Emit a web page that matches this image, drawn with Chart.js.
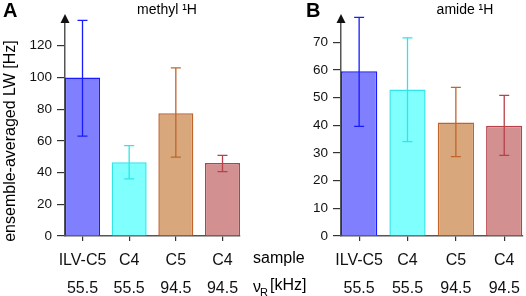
<!DOCTYPE html>
<html>
<head>
<meta charset="utf-8">
<script src="https://cdn.jsdelivr.net/npm/chart.js@4"></script>
<style>
  body { margin: 0; background: #fff; }
  #wrap { position: relative; width: 526px; height: 296px; }
  #wrapA { position: absolute; left: 0; top: 0; width: 250px; height: 296px; }
  #wrapB { position: absolute; left: 250px; top: 0; width: 276px; height: 296px; }
</style>
</head>
<body>
<div id="wrap">
  <div id="wrapA"><canvas id="chartA"></canvas></div>
  <div id="wrapB"><canvas id="chartB"></canvas></div>
</div>
<script>
const categories = ['ILV-C5', 'C4', 'C5', 'C4'];
const spinRates = ['55.5', '55.5', '94.5', '94.5'];

const methylLW = [100, 46.5, 77.5, 46];
const methylLow = [63, 36, 49.7, 40.6];
const methylHigh = [136, 57, 106, 50.8];

const amideLW = [59.5, 52.9, 41, 39.8];
const amideLow = [39.6, 34.1, 28.7, 29.1];
const amideHigh = [79, 71.6, 53.7, 50.8];

const methylTicks = [0, 20, 40, 60, 80, 100, 120];
const amideTicks = [0, 10, 20, 30, 40, 50, 60, 70];

const fillColors = ['#8080ff', '#80ffff', '#d8a87c', '#d29090'];
const lineColors = ['#1a1aff', '#2ee6e6', '#c0642c', '#b8404a'];

const FONT = '"Liberation Sans", Arial, sans-serif';

function makeChart(canvasId, opts) {
    const canvas = document.getElementById(canvasId);
    const ctx = canvas.getContext('2d');

    return new Chart(ctx, {
        type: 'bar',
        data: {
            datasets: [{
                data: opts.values.map((v, i) => ({ x: i, y: v })),
                backgroundColor: fillColors,
                borderColor: lineColors,
                borderWidth: 1.5,
                barPercentage: 0.75,
                categoryPercentage: 1,
            }]
        },
        options: {
            responsive: true,
            maintainAspectRatio: false,
            animation: false,
            layout: {
                padding: { top: 22, right: opts.padRight, left: 0, bottom: 0 }
            },
            scales: {
                x: {
                    type: 'linear',
                    offset: false,
                    min: -0.375,
                    max: 3.375,
                    afterBuildTicks: (s) => { s.ticks = categories.map((_, i) => ({ value: i })); },
                    afterFit: (s) => { s.height = 60; },
                    grid: { drawOnChartArea: false, offset: false, tickLength: 5, color: '#333', lineWidth: 1.2 },
                    border: { display: true, color: '#555', width: 1.5 },
                    ticks: {
                        padding: 6,
                        autoSkip: false,
                        color: '#111',
                        font: { family: FONT, size: 16, lineHeight: 1.75 },
                        maxRotation: 0,
                        callback: (v) => [categories[v], spinRates[v]],
                    }
                },
                y: {
                    min: 0,
                    max: opts.yMax,
                    afterBuildTicks: (s) => { s.ticks = opts.ticks.map(v => ({ value: v })); },
                    afterFit: (s) => { s.width = opts.axisWidth; },
                    grid: { drawOnChartArea: false, tickLength: 8, color: '#333', lineWidth: 1.2 },
                    border: { display: true, color: '#555', width: 1.5 },
                    ticks: {
                        padding: 5,
                        color: '#111',
                        font: { family: FONT, size: 13.5 },
                    }
                }
            },
            plugins: {
                legend: { display: false },
                tooltip: { enabled: false }
            }
        },
        plugins: [
            {
                id: 'errorBars',
                afterDatasetsDraw: (chart) => {
                    const c = chart.ctx;
                    const xs = chart.scales.x;
                    const ys = chart.scales.y;
                    c.save();
                    c.lineWidth = 1.3;
                    opts.values.forEach((_, i) => {
                        const x = xs.getPixelForValue(i);
                        const y1 = ys.getPixelForValue(opts.low[i]);
                        const y2 = ys.getPixelForValue(opts.high[i]);
                        c.strokeStyle = lineColors[i];
                        c.beginPath();
                        c.moveTo(x, y1); c.lineTo(x, y2);
                        c.moveTo(x - 5, y1); c.lineTo(x + 5, y1);
                        c.moveTo(x - 5, y2); c.lineTo(x + 5, y2);
                        c.stroke();
                    });
                    c.restore();
                }
            },
            {
                id: 'decor',
                afterDraw: (chart) => {
                    const c = chart.ctx;
                    const area = chart.chartArea;
                    c.save();
                    // arrow on top of the y axis
                    c.fillStyle = '#111';
                    c.beginPath();
                    c.moveTo(area.left, area.top - 8);
                    c.lineTo(area.left - 4.5, area.top + 1);
                    c.lineTo(area.left + 4.5, area.top + 1);
                    c.closePath();
                    c.fill();

                    // panel letter
                    c.fillStyle = '#000';
                    c.font = 'bold 20px ' + FONT;
                    c.textAlign = 'left';
                    c.textBaseline = 'alphabetic';
                    c.fillText(opts.letter, opts.letterX, 17);

                    // panel title
                    c.font = '14px ' + FONT;
                    c.textAlign = 'center';
                    c.fillText(opts.title, opts.titleX, 14);

                    if (opts.yTitle) {
                        c.save();
                        c.translate(15, 141);
                        c.rotate(-Math.PI / 2);
                        c.font = '16px ' + FONT;
                        c.textAlign = 'center';
                        c.fillText(opts.yTitle, 0, 0);
                        c.restore();
                    }

                    if (opts.rowLabels) {
                        c.font = '16px ' + FONT;
                        c.textAlign = 'left';
                        c.textBaseline = 'middle';
                        c.fillText('sample', 3, 259);
                        c.fillText('\u03bd', 3, 288);
                        c.font = '11px ' + FONT;
                        c.fillText('R', 10, 293);
                        c.font = '16px ' + FONT;
                        c.fillText('[kHz]', 20, 286);
                    }
                    c.restore();
                }
            }
        ]
    });
}

document.addEventListener('DOMContentLoaded', () => {
    makeChart('chartA', {
        values: methylLW, low: methylLow, high: methylHigh,
        ticks: methylTicks, yMax: 135, axisWidth: 65, padRight: 10,
        letter: 'A', letterX: 3, title: 'methyl \u00b9H', titleX: 167,
        yTitle: 'ensemble-averaged LW [Hz]'
    });
    makeChart('chartB', {
        values: amideLW, low: amideLow, high: amideHigh,
        ticks: amideTicks, yMax: 77.3, axisWidth: 91, padRight: 2,
        letter: 'B', letterX: 56, title: 'amide \u00b9H', titleX: 215,
        rowLabels: true
    });
});
</script>
</body>
</html>
